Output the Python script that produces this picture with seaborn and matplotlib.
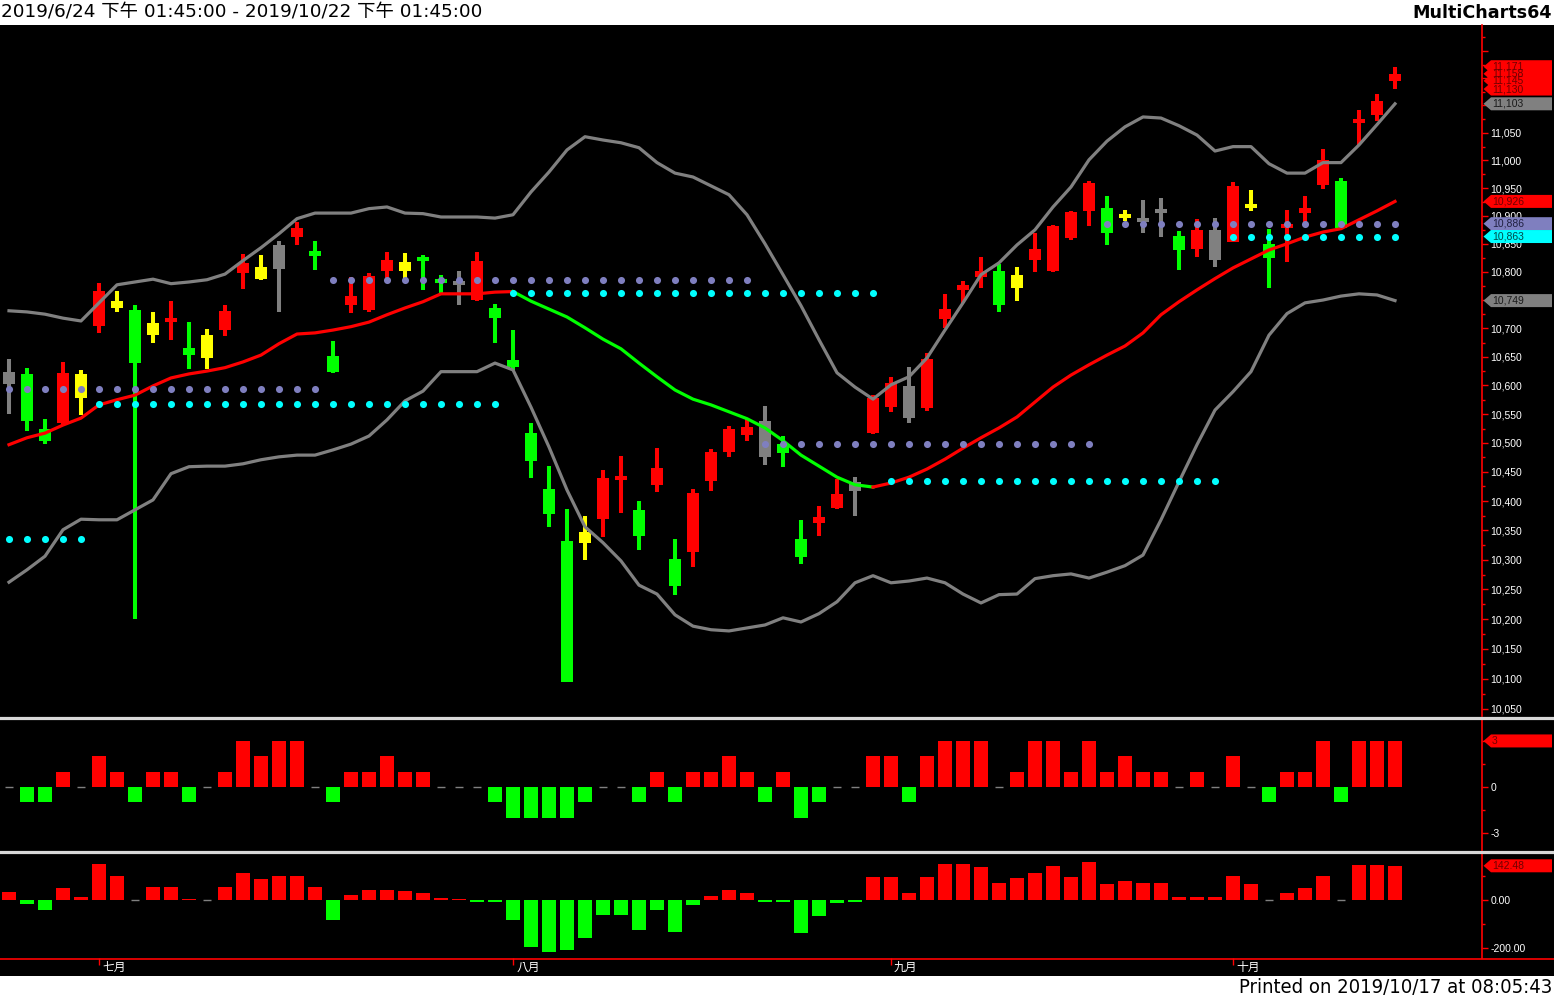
import matplotlib
matplotlib.use("Agg")
import matplotlib.pyplot as plt
import matplotlib.ticker as mticker
import matplotlib.transforms as mtransforms
from matplotlib.patches import Polygon, Rectangle
from matplotlib.lines import Line2D
import numpy as np
import pandas as pd
import seaborn as sns

# ---------------- data ----------------
candle_kind = list("KGGRYRYGYR" "GYRRYKRGGR" "RRYGGKRGGG" "GGYRRGRGRR"
                   "RRKGGRRKRR" "KRRRRGYRRR" "RGYKKGRKRY" "GRRRGRRR")

open_ = [10602, 10620, 10524, 10534, 10578, 10705, 10736, 10733, 10688, 10715,
         10666, 10648, 10697, 10798, 10788, 10805, 10862, 10838, 10652, 10741,
         10733, 10802, 10802, 10824, 10787, 10780, 10750, 10736, 10645, 10518,
         10421, 10331, 10329, 10370, 10440, 10385, 10428, 10301, 10314, 10435,
         10485, 10513, 10476, 10498, 10335, 10363, 10388, 10418, 10517, 10562,
         10543, 10560, 10717, 10767, 10790, 10801, 10772, 10821, 10801, 10861,
         10909, 10914, 10900, 10893, 10909, 10864, 10841, 10821, 10854, 10918,
         10850, 10881, 10905, 10956, 10963, 11068, 11082, 11145]
high = [10646, 10631, 10542, 10641, 10627, 10780, 10766, 10741, 10729, 10748,
        10711, 10699, 10741, 10832, 10830, 10855, 10889, 10855, 10677, 10790,
        10798, 10836, 10833, 10830, 10795, 10802, 10836, 10743, 10697, 10534,
        10460, 10387, 10375, 10453, 10478, 10400, 10491, 10335, 10421, 10489,
        10529, 10543, 10564, 10512, 10368, 10391, 10438, 10441, 10583, 10615,
        10633, 10657, 10761, 10783, 10827, 10814, 10808, 10870, 10884, 10909,
        10963, 10936, 10911, 10929, 10932, 10873, 10894, 10896, 10961, 10947,
        10877, 10911, 10936, 11020, 10968, 11092, 11121, 11171]
low = [10550, 10521, 10498, 10531, 10549, 10691, 10728, 10200, 10675, 10680,
       10629, 10629, 10687, 10770, 10786, 10728, 10848, 10804, 10622, 10727,
       10728, 10789, 10787, 10767, 10763, 10742, 10749, 10674, 10627, 10440,
       10356, 10094, 10300, 10339, 10379, 10317, 10415, 10241, 10287, 10417,
       10476, 10504, 10462, 10459, 10293, 10341, 10387, 10375, 10516, 10554,
       10535, 10556, 10701, 10745, 10772, 10728, 10749, 10799, 10800, 10856,
       10882, 10848, 10890, 10870, 10863, 10804, 10827, 10809, 10854, 10909,
       10772, 10818, 10888, 10949, 10879, 11028, 11071, 11130]
close = [10624, 10538, 10504, 10622, 10620, 10766, 10749, 10639, 10710, 10715,
         10653, 10688, 10731, 10815, 10809, 10848, 10879, 10828, 10624, 10758,
         10793, 10821, 10817, 10820, 10780, 10780, 10820, 10719, 10632, 10468,
         10378, 10095, 10347, 10440, 10440, 10341, 10457, 10255, 10413, 10484,
         10525, 10528, 10538, 10483, 10305, 10372, 10412, 10433, 10578, 10604,
         10599, 10646, 10734, 10776, 10802, 10741, 10795, 10841, 10881, 10907,
         10959, 10869, 10900, 10893, 10909, 10839, 10875, 10875, 10954, 10918,
         10825, 10881, 10915, 11001, 10879, 11075, 11108, 11158]

bb_upper = [10731, 10729, 10725, 10718, 10713, 10745, 10777, 10782, 10787, 10779,
            10782, 10786, 10796, 10820, 10843, 10868, 10895, 10905, 10905, 10905,
            10913, 10916, 10905, 10904, 10898, 10898, 10898, 10896, 10902, 10943,
            10979, 11019, 11043, 11037, 11032, 11023, 10996, 10977, 10970, 10954,
            10938, 10902, 10850, 10795, 10740, 10680, 10622, 10597, 10576, 10601,
            10615, 10648, 10697, 10745, 10795, 10816, 10848, 10875, 10916, 10952,
            11001, 11035, 11061, 11079, 11077, 11063, 11046, 11017, 11025, 11025,
            10994, 10977, 10977, 10996, 10996, 11028, 11065, 11103]
bb_lower = [10262, 10283, 10306, 10351, 10369, 10368, 10368, 10385, 10402, 10447,
            10459, 10460, 10460, 10464, 10471, 10476, 10479, 10479, 10488, 10498,
            10512, 10540, 10573, 10590, 10624, 10624, 10624, 10639, 10627, 10562,
            10493, 10419, 10356, 10329, 10298, 10257, 10242, 10207, 10188, 10182,
            10180, 10185, 10190, 10202, 10195, 10209, 10229, 10261, 10273, 10261,
            10264, 10269, 10261, 10242, 10227, 10241, 10242, 10268, 10273, 10276,
            10269, 10279, 10290, 10308, 10368, 10433, 10497, 10557, 10589, 10624,
            10688, 10726, 10745, 10750, 10757, 10761, 10759, 10749]
ma_mid = [10497, 10509, 10517, 10531, 10543, 10566, 10575, 10583, 10599, 10613,
          10620, 10625, 10631, 10641, 10653, 10673, 10690, 10692, 10697, 10703,
          10711, 10724, 10736, 10747, 10761, 10761, 10761, 10764, 10765, 10748,
          10734, 10720, 10701, 10681, 10664, 10639, 10615, 10592, 10576, 10566,
          10554, 10542, 10526, 10504, 10479, 10460, 10441, 10428, 10424, 10431,
          10441, 10455, 10472, 10491, 10509, 10526, 10545, 10571, 10597, 10618,
          10636, 10653, 10669, 10692, 10724, 10747, 10768, 10788, 10807, 10823,
          10839, 10850, 10862, 10871, 10877, 10893, 10909, 10926]

level_value = [10335, 10593, 10567, 10785, 10762, 10498, 10435, 10886, 10863]
level_first = [0, 0, 5, 18, 28, 42, 49, 61, 68]
level_last = [4, 17, 27, 41, 48, 60, 67, 77, 77]
level_kind = ["C", "P", "C", "P", "C", "P", "C", "P", "C"]

osc1 = [0, -1, -1, 1, 0, 2, 1, -1, 1, 1,
        -1, 0, 1, 3, 2, 3, 3, 0, -1, 1,
        1, 2, 1, 1, 0, 0, 0, -1, -2, -2,
        -2, -2, -1, 0, 0, -1, 1, -1, 1, 1,
        2, 1, -1, 1, -2, -1, 0, 0, 2, 2,
        -1, 2, 3, 3, 3, 0, 1, 3, 3, 1,
        3, 1, 2, 1, 1, 0, 1, 0, 2, 0,
        -1, 1, 1, 3, -1, 3, 3, 3]
osc2 = [33, -17, -42, 50, 12, 150, 100, 0, 54, 54,
        4, 0, 54, 112, 87, 100, 100, 54, -83, 21,
        42, 42, 37, 29, 8, 4, -8, -8, -83, -196,
        -217, -208, -158, -62, -62, -125, -42, -133, -21, 17,
        42, 29, -8, -8, -137, -67, -12, -8, 96, 96,
        29, 96, 150, 150, 137, 71, 92, 112, 142, 96,
        158, 67, 79, 71, 71, 12, 12, 12, 100, 67,
        0, 29, 50, 100, 0, 146, 146, 142.48]

month_labels = ["七月", "八月", "九月", "十月"]
month_first_bar = [5, 28, 49, 68]

title_left = "2019/6/24 下午 01:45:00 - 2019/10/22 下午 01:45:00"
title_right = "MultiCharts64"
footer = "Printed on 2019/10/17 at 08:05:43"

# ---------------- style ----------------
RED, GREEN, YELLOW, GRAY = "#ff0000", "#00ff00", "#ffff00", "#808080"
PURPLE, CYAN = "#7f7fbf", "#00ffff"
KIND_COLOR = {"R": RED, "G": GREEN, "Y": YELLOW, "K": GRAY}
LEVEL_COLOR = {"P": PURPLE, "C": CYAN}
TICK_FONT = ["Liberation Sans", "DejaVu Sans"]
CJK_FONT = ["Noto Sans CJK TC", "DejaVu Sans"]

W, H = 1554, 999
plt.rcParams["font.family"] = ["DejaVu Sans", "Noto Sans CJK TC"]
fig = plt.figure(figsize=(W / 100, H / 100), dpi=100, facecolor="white")

fig.add_artist(Rectangle((0, 1 - 976 / H), 1, (976 - 25) / H, transform=fig.transFigure,
                         facecolor="black", edgecolor="none", zorder=-5))

AXW = 1482 / W
ax1 = fig.add_axes([0, 1 - 716 / H, AXW, (716 - 25) / H])
ax2 = fig.add_axes([0, 1 - 850 / H, AXW, (850 - 719) / H])
ax3 = fig.add_axes([0, 1 - 958 / H, AXW, (958 - 853) / H])

idx = np.arange(len(close))
XLIM = (-0.5, (1482 - 9) / 18)

# ---------------- main panel ----------------
ax1.set_yscale("log")
colors = [KIND_COLOR[k] for k in candle_kind]
o = np.array(open_, float)
c = np.array(close, float)
lo = np.minimum(o, c)
hi = np.maximum(o, c)
ax1.vlines(idx, low, high, colors=colors, lw=2.9, zorder=2)
ax1.bar(idx, hi - lo, bottom=lo, width=0.72, color=colors, linewidth=0, zorder=2.1)
ax1.hlines((o + c) / 2, idx - 0.36, idx + 0.36, colors=colors, lw=2.9, zorder=2.1)

sns.lineplot(x=idx, y=bb_upper, color=GRAY, linewidth=2.3, ax=ax1, zorder=3)
sns.lineplot(x=idx, y=bb_lower, color=GRAY, linewidth=2.3, ax=ax1, zorder=3)

ma = np.array(ma_mid, float)
rising = np.diff(ma) >= 0
start = 0
for j in range(1, len(rising) + 1):
    if j == len(rising) or rising[j] != rising[start]:
        seg = slice(start, j + 1)
        sns.lineplot(x=idx[seg], y=ma[seg], color=RED if rising[start] else GREEN,
                     linewidth=2.3, ax=ax1, zorder=3.2)
        start = j

for v, a, b, k in zip(level_value, level_first, level_last, level_kind):
    xs = np.arange(a, b + 1)
    sns.scatterplot(x=xs, y=np.full(len(xs), v), color=LEVEL_COLOR[k], s=26,
                    linewidth=0, ax=ax1, zorder=4)

# ---------------- oscillator panels ----------------
def osc_panel(ax, vals):
    vals = np.array(vals, float)
    sign = np.where(vals > 0, "up", np.where(vals < 0, "dn", "zero"))
    df = pd.DataFrame({"i": idx, "v": vals, "s": sign})
    pal = {"up": RED, "dn": GREEN, "zero": GRAY}
    pal = {k: pal[k] for k in df["s"].unique()}
    sns.barplot(data=df, x="i", y="v", hue="s", palette=pal, native_scale=True,
                width=0.74, dodge=False, errorbar=None, legend=False,
                saturation=1, linewidth=0, ax=ax, zorder=2)
    z = idx[vals == 0]
    ax.hlines(np.zeros(len(z)), z - 0.22, z + 0.22, colors=GRAY, lw=1, zorder=2.2)

osc_panel(ax2, osc1)
osc_panel(ax3, osc2)

# ---------------- axes styling ----------------
for ax in (ax1, ax2, ax3):
    ax.set_facecolor("black")
    ax.set_xlim(*XLIM)
    ax.set_xlabel("")
    ax.set_ylabel("")
    for s in ("top", "left", "bottom"):
        ax.spines[s].set_visible(False)
    ax.spines["right"].set_color(RED)
    ax.spines["right"].set_linewidth(1.2)
    ax.yaxis.tick_right()
    ax.tick_params(axis="y", which="major", colors=RED, labelcolor="white",
                   length=4, width=1, labelsize=7.5, pad=2)
    ax.tick_params(axis="y", which="minor", colors=RED, length=2.5, width=1)
    ax.tick_params(axis="x", which="both", bottom=False, labelbottom=False, top=False)

ax1.set_ylim(10038.4, 11248)
ax1.yaxis.set_major_locator(mticker.FixedLocator(np.arange(10050, 11201, 50)))
ax1.yaxis.set_major_formatter(mticker.FuncFormatter(lambda v, p: f"{v:,.0f}" if v <= 11050 else ""))
ax1.yaxis.set_minor_locator(mticker.FixedLocator(np.arange(10075, 11226, 50)))
ax1.yaxis.set_minor_formatter(mticker.NullFormatter())

ax2.set_ylim(-4.11, 4.43)
ax2.yaxis.set_major_locator(mticker.FixedLocator([-3, 0, 3]))
ax2.yaxis.set_major_formatter(mticker.FuncFormatter(lambda v, p: f"{v:.0f}"))
ax2.yaxis.set_minor_locator(mticker.FixedLocator([-1.5, 1.5]))

ax3.set_ylim(-241.7, 195.8)
ax3.yaxis.set_major_locator(mticker.FixedLocator([-200, 0, 200]))
ax3.yaxis.set_major_formatter(mticker.FuncFormatter(lambda v, p: f"{v:.2f}"))
ax3.yaxis.set_minor_locator(mticker.FixedLocator([-100, 100]))

for ax in (ax1, ax2, ax3):
    for lab in ax.get_yticklabels():
        lab.set_fontfamily(TICK_FONT)
        lab.set_color("white")

# month ticks
ax3.set_xticks(month_first_bar)
ax3.set_xticklabels([])
ax3.tick_params(axis="x", which="major", bottom=True, colors=RED, length=5, width=1)
btrans = mtransforms.blended_transform_factory(ax3.transData, ax3.transAxes)
for m, lab in zip(month_first_bar, month_labels):
    ax3.text(m + 0.17, -9 / 105, lab, transform=btrans, ha="left", va="center",
             color="white", fontsize=8.5, family=CJK_FONT, clip_on=False)

# figure-level lines
fig.add_artist(Line2D([0, 1], [1 - 958.5 / H] * 2, color=RED, lw=1.2, transform=fig.transFigure, zorder=5))
for ys in (717.5, 851.5):
    fig.add_artist(Line2D([0, 1], [1 - ys / H] * 2, color="#d8d8d8", lw=2.3,
                          transform=fig.transFigure, zorder=5))

# ---------------- price tags on the axis ----------------
TAG_TEXT = {RED: "#700000", GRAY: "#1a1a1a", PURPLE: "#202040", CYAN: "#004848"}

def tag(ax, value, text, fc):
    yd = ax.transData.transform((0, value))[1]
    x0, x1, x2, hh = 1483.5, 1491, 1552, 6.5
    pts = [(x0, yd), (x1, yd + hh), (x2, yd + hh), (x2, yd - hh), (x1, yd - hh)]
    fig.add_artist(Polygon([(x / W, y / H) for x, y in pts], closed=True,
                           transform=fig.transFigure, facecolor=fc, edgecolor="none", zorder=6))
    fig.text((x1 + 1) / W, yd / H, text, ha="left", va="center", fontsize=7.5,
             color=TAG_TEXT[fc], family=TICK_FONT, zorder=7)

for v in (high[-1], close[-1], open_[-1], low[-1]):
    tag(ax1, v, f"{v:,.0f}", RED)
tag(ax1, bb_upper[-1], f"{bb_upper[-1]:,.0f}", GRAY)
tag(ax1, ma_mid[-1], f"{ma_mid[-1]:,.0f}", RED)
tag(ax1, level_value[7], f"{level_value[7]:,.0f}", PURPLE)
tag(ax1, level_value[8], f"{level_value[8]:,.0f}", CYAN)
tag(ax1, bb_lower[-1], f"{bb_lower[-1]:,.0f}", GRAY)
tag(ax2, osc1[-1], f"{osc1[-1]:.0f}", RED)
tag(ax3, osc2[-1], f"{osc2[-1]:.2f}", RED)

# ---------------- header / footer ----------------
fig.text(1 / W, 1 - 12.5 / H, title_left, ha="left", va="center", fontsize=13.2,
         color="black", family=["DejaVu Sans", "Noto Sans CJK TC"])
fig.text(1552 / W, 1 - 12.5 / H, title_right, ha="right", va="center", fontsize=12.6,
         fontweight="bold", color="black", family=["DejaVu Sans"])
fig.text(1552 / W, 1 - 987.5 / H, footer, ha="right", va="center", fontsize=14.5,
         color="black", family=["DejaVu Sans"], fontstretch="condensed")

fig.savefig("out.png", dpi=100, facecolor="white")
